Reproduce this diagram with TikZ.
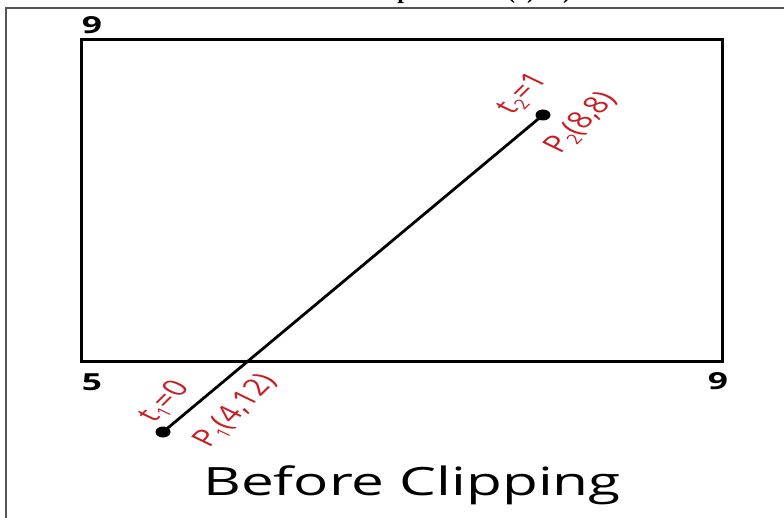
\documentclass[tikz,border=0pt]{standalone}
\usepackage{fontspec}
\usepackage{graphicx}
\setmainfont{Open Sans}
\newfontfamily\titleserif{Liberation Serif}
\definecolor{lblred}{RGB}{200,30,35}
\definecolor{framegray}{RGB}{85,85,85}
\newcommand{\lblsub}[1]{\raisebox{-0.18em}{\fontsize{14}{14}\selectfont #1}}
\newcommand{\stretchrot}[2]{\scalebox{1.45}[1]{\rotatebox{#1}{#2}}}
\newcommand{\stretchtxt}[2]{\scalebox{#1}[1]{#2}}
\begin{document}
\begin{tikzpicture}[x=1pt,y=-1pt,
  outerframe/.style={draw=framegray, line width=1.6pt},
  window/.style={draw=black, line width=3pt},
  seg/.style={draw=black, line width=2.8pt},
  endpt/.style={fill=black},
  lbl/.style={text=lblred, inner sep=0pt, font=\fontsize{23.5}{27}\selectfont},
  axnum/.style={inner sep=0pt, font=\fontsize{23.5}{27}\selectfont\bfseries},
  captionlbl/.style={inner sep=0pt, font=\fontsize{39}{45}\selectfont},
  titlefrag/.style={inner sep=0pt, font=\fontsize{24}{28}\selectfont\titleserif\bfseries}]
\useasboundingbox (0,0) rectangle (784,518);
% clipped title fragments at the top edge
\node[titlefrag, anchor=base] (tp) at (404,-1) {p};
\node[titlefrag, anchor=base] (tpar) at (521,-1) {(1)};
\node[titlefrag, anchor=base] (tpar2) at (567,-1) {)};
% outer frame
\coordinate (fb) at (6,519);
\coordinate (ftl) at (6,8);
\coordinate (ftr) at (785,8);
\draw[outerframe] (fb) -- (ftl) -- (ftr);
% clipping window
\coordinate (wtl) at (81,40);
\coordinate (wbr) at (722,361);
\draw[window] (wtl) rectangle (wbr);
% axis numbers
\node[axnum] (ytop) at (92,25) {\stretchtxt{1.5}{9}};
\node[axnum] (xleft) at (92,382) {\stretchtxt{1.5}{5}};
\node[axnum] (xright) at (718,381) {\stretchtxt{1.5}{9}};
% line segment
\coordinate (p1) at (163,432);
\coordinate (p2) at (543,115);
\draw[seg] (p1) -- (p2);
\fill[endpt] (p1) ellipse [x radius=7.5, y radius=5.5];
\fill[endpt] (p2) ellipse [x radius=7.5, y radius=5.5];
% labels
\node[lbl] (t2) at (523,94) {\stretchrot{55}{t\lblsub{2}=1}};
\node[lbl] (p2lbl) at (581,123) {\stretchrot{55}{P\lblsub{2}(8,8)}};
\node[lbl] (t1) at (165,402) {\stretchrot{55}{t\lblsub{1}=0}};
\node[lbl] (p1lbl) at (236,411) {\stretchrot{55}{P\lblsub{1}(4,12)}};
% caption
\node[captionlbl, anchor=base] (cap) at (412,495) {\stretchtxt{1.5}{Before Clipping}};
\end{tikzpicture}
\end{document}
